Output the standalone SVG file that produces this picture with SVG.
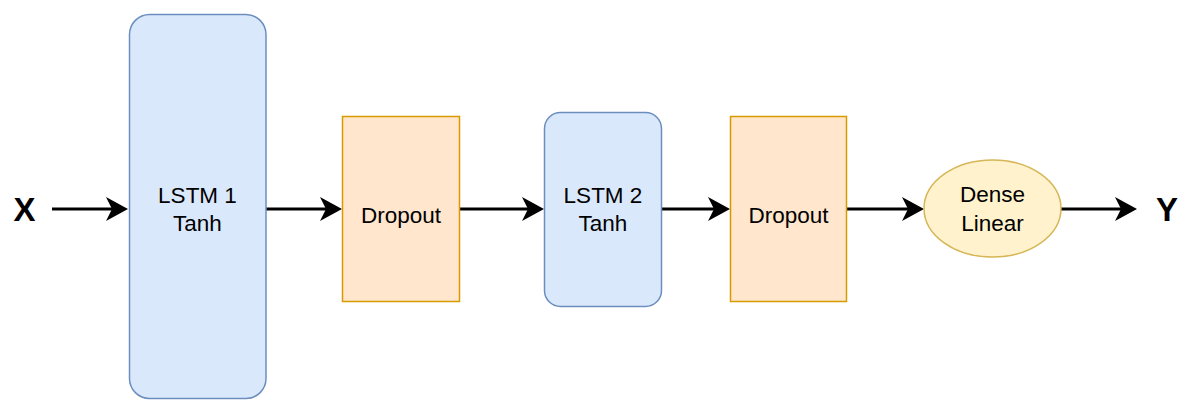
<svg xmlns="http://www.w3.org/2000/svg" width="1181" height="401" viewBox="0 0 1181 401">
  <style>
    .lstm { fill: #dae8fc; stroke: #6c8ebf; stroke-width: 1.5; }
    .drop { fill: #ffe6cc; stroke: #d79b00; stroke-width: 1.5; }
    .dense { fill: #fff2cc; stroke: #d6b656; stroke-width: 1.5; }
    .lbl { font-family: "Liberation Sans", Arial, sans-serif; font-size: 22.5px; fill: #000; text-anchor: middle; }
    .io { font-family: "Liberation Sans", Arial, sans-serif; font-size: 33px; font-weight: bold; fill: #000; text-anchor: middle; }
    .edge { stroke: #000; stroke-width: 3; fill: none; marker-end: url(#arrow); }
  </style>
  <defs>
    <marker id="arrow" markerUnits="userSpaceOnUse" viewBox="-7 -13 24 26" refX="0" refY="0" markerWidth="24" markerHeight="26" orient="auto">
      <path d="M16,0 L-6,-12 L0,0 L-6,12 Z" fill="#000"/>
    </marker>
  </defs>

  <rect width="1181" height="401" fill="#fff"/>

  <!-- connectors -->
  <g id="edges">
    <line class="edge" x1="52" y1="209" x2="112" y2="209"/>
    <line class="edge" x1="266" y1="209" x2="326" y2="209"/>
    <line class="edge" x1="460" y1="209" x2="528" y2="209"/>
    <line class="edge" x1="662" y1="209" x2="714" y2="209"/>
    <line class="edge" x1="847" y1="209" x2="908" y2="209"/>
    <line class="edge" x1="1061" y1="209" x2="1121" y2="209"/>
  </g>

  <g id="input-x">
    <text class="io" x="24.5" y="221">X</text>
  </g>

  <g id="lstm1">
    <rect class="lstm" x="129.5" y="14.5" width="136.5" height="384" rx="20" ry="20"/>
    <text class="lbl" x="197.5" y="202.5">LSTM 1</text>
    <text class="lbl" x="197.5" y="231">Tanh</text>
  </g>

  <g id="dropout1">
    <rect class="drop" x="342.5" y="116.5" width="117" height="185"/>
    <text class="lbl" x="401" y="222.5">Dropout</text>
  </g>

  <g id="lstm2">
    <rect class="lstm" x="544.5" y="112.5" width="117" height="194" rx="16" ry="16"/>
    <text class="lbl" x="603" y="202.5">LSTM 2</text>
    <text class="lbl" x="603" y="231">Tanh</text>
  </g>

  <g id="dropout2">
    <rect class="drop" x="730.5" y="116.5" width="116" height="185"/>
    <text class="lbl" x="788.5" y="222.5">Dropout</text>
  </g>

  <g id="dense">
    <ellipse class="dense" cx="992.5" cy="208.5" rx="68.5" ry="48.5"/>
    <text class="lbl" x="992.5" y="201.5">Dense</text>
    <text class="lbl" x="992.5" y="231">Linear</text>
  </g>

  <g id="output-y">
    <text class="io" x="1167" y="221">Y</text>
  </g>
</svg>
